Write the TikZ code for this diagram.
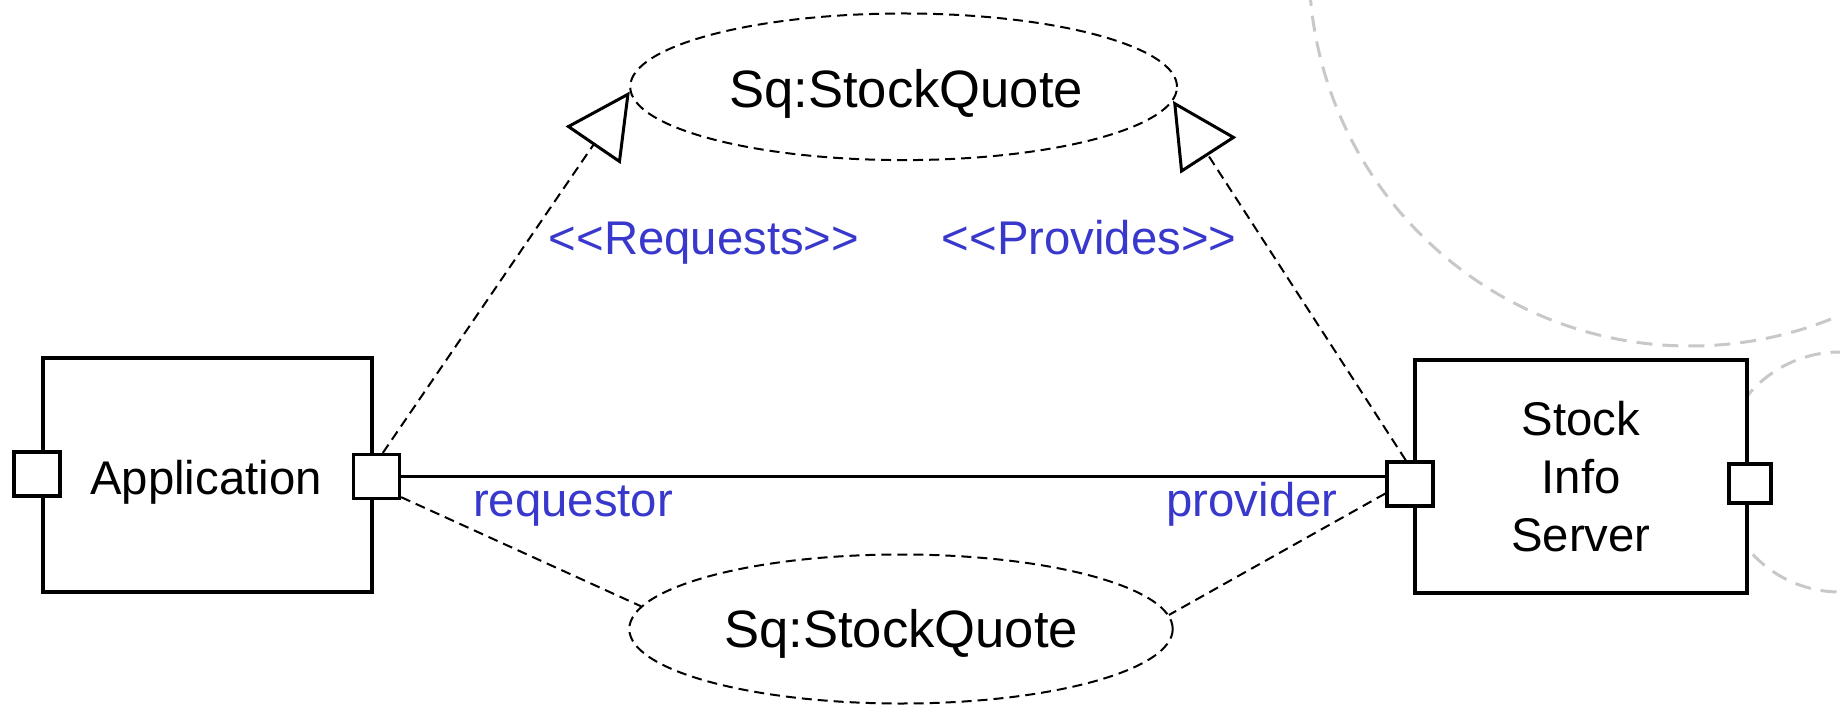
\documentclass[tikz,border=0pt]{standalone}
\usepackage{fontspec}
\setmainfont{Liberation Sans}
\usetikzlibrary{arrows.meta,shapes.geometric,calc}
\definecolor{labelblue}{RGB}{56,56,204}
\definecolor{guidegray}{RGB}{200,200,200}
\begin{document}
\begin{tikzpicture}[x=0.5pt,y=-0.5pt,
  font=\fontsize{23.65pt}{29pt}\selectfont,
  comp/.style={draw, line width=1.6pt, fill=white, inner sep=0pt},
  port/.style={draw, line width=1.6pt, fill=white, inner sep=0pt,
               minimum width=23pt, minimum height=22pt},
  usecase/.style={ellipse, draw, line width=1pt, dash pattern=on 5pt off 3pt, inner sep=0pt},
  ucname/.style={inner sep=0pt, font=\fontsize{26.3pt}{32pt}\selectfont},
  dep/.style={line width=1pt, dash pattern=on 5pt off 3pt},
  realize/.style={dep, -{Triangle[open, length=32.5pt, width=33pt, line width=1.5pt]}},
  lbl/.style={text=labelblue, inner sep=0pt, anchor=base},
  guide/.style={draw=guidegray, line width=1.5pt, dash pattern=on 8pt off 5pt}]

\useasboundingbox (0,0) rectangle (1840,705);

% faint guide arcs in the background
\begin{scope}
  \clip (0,0) rectangle (1840,705);
  \draw[guide] (1690,-35) circle[radius=190.5pt];
  \draw[guide] (1840,472) circle[radius=60pt];
\end{scope}

% collaborations
\node[usecase, minimum width=273.4pt, minimum height=73.3pt] (top) at (903.6,86.8) {};
\node[ucname] (topname) at (906,94) {Sq:StockQuote};
\node[usecase, minimum width=271.7pt, minimum height=74.5pt] (bot) at (901,629) {};
\node[ucname] (botname) at (901,633.5) {Sq:StockQuote};

% components
\node[comp, minimum width=164.5pt, minimum height=117pt] (app) at (207.5,475) {};
\node[inner sep=0pt] (appname) at (206,482) {Application};
\node[comp, minimum width=166pt, minimum height=116.5pt, align=center] (srv) at (1581,476.5) {Stock\\Info\\Server};

% ports
\node[port] (ap) at (37,474) {};
\node[port] (rp) at (376.5,476.5) {};
\node[port] (lp) at (1410,484) {};
\node[port, minimum width=21pt, minimum height=19.5pt] (sp) at (1750,483.5) {};

% connectors
\draw[line width=1.5pt] (rp.east) -- (rp.east -| lp.west);
\draw[realize] (rp.75) -- (top.181);
\draw[realize] (lp.100) -- (top.-3);
\draw[dep] (rp.-40) -- (bot.175);
\draw[dep] (lp.201) -- (bot.3);

% labels
\node[lbl] (req) at (704,255) {<\kern0pt<Requests>\kern0pt>};
\node[lbl] (prov) at (1089,255) {<\kern0pt<Provides>\kern0pt>};
\node[lbl] (reqr) at (573,516) {requestor};
\node[lbl] (provr) at (1252,516) {provider};
\end{tikzpicture}
\end{document}
